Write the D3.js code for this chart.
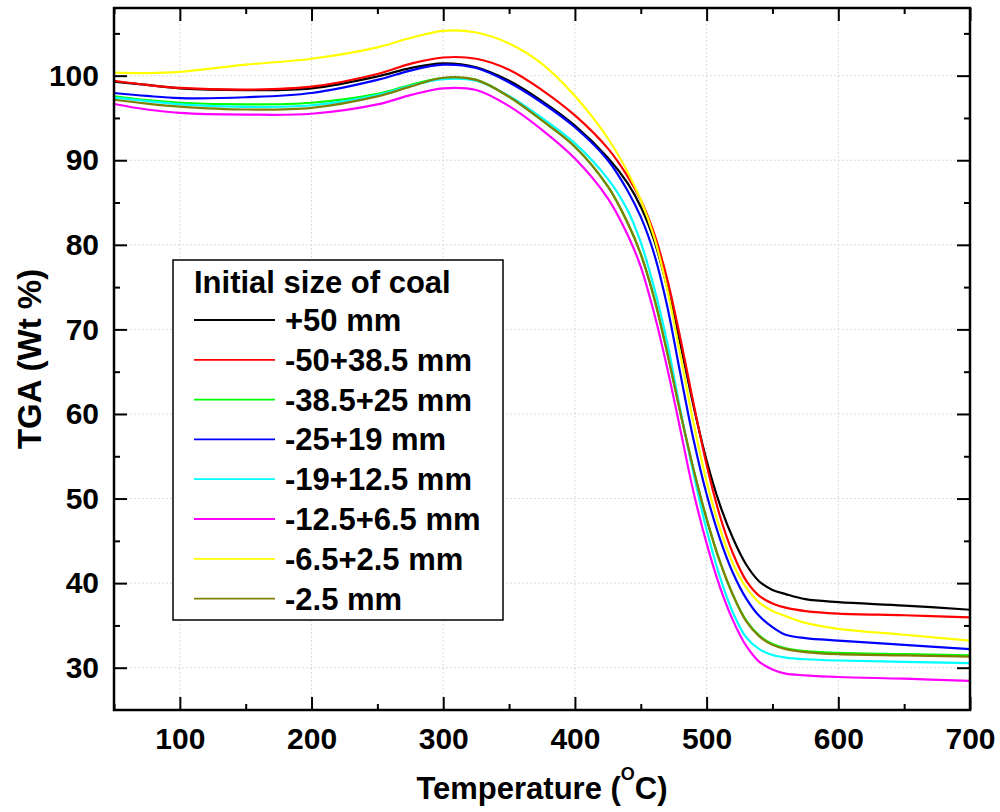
<!DOCTYPE html>
<html>
<head>
<meta charset="utf-8">
<script src="https://cdn.jsdelivr.net/npm/d3@7"></script>
<style>
  body { margin: 0; background: #fff; }
  svg { font-family: "Liberation Sans", Arial, sans-serif; font-weight: bold; }
  .tick text { font-size: 30px; font-weight: bold; fill: #000; }
  .tick line { stroke: #000; stroke-width: 2; }
  .grid line { stroke: #d0d0d0; stroke-width: 1; stroke-dasharray: 1.5,2.5; }
</style>
</head>
<body>
<svg id="chart" width="1000" height="812"></svg>
<script>
// temperatures (deg C) shared by all curves
const temps = [50, 75, 100, 150, 200, 250, 275, 300, 325, 350, 375, 400, 425, 440, 450, 460, 470, 480, 490, 500, 510, 520, 530, 540, 550, 560, 575, 600, 650, 700];

const seriesNames = ['+50 mm', '-50+38.5 mm', '-38.5+25 mm', '-25+19 mm', '-19+12.5 mm', '-12.5+6.5 mm', '-6.5+2.5 mm', '-2.5 mm'];
const seriesColors = ['#000000', '#ff0000', '#00ff00', '#0000ff', '#00ffff', '#ff00ff', '#ffff00', '#808000'];

const tga50 = [99.3, 98.9, 98.5, 98.3, 98.5, 99.9, 100.9, 101.45, 101.0, 99.4, 97.0, 94.1, 90.3, 87.3, 84.5, 80.6, 75.0, 68.3, 61.0, 54.5, 49.3, 45.3, 42.2, 40.2, 39.2, 38.7, 38.1, 37.75, 37.35, 36.85];
const tga50_385 = [99.4, 98.9, 98.55, 98.35, 98.7, 100.2, 101.4, 102.15, 102.0, 100.7, 98.3, 95.3, 91.4, 88.1, 85.3, 81.4, 76.0, 69.0, 61.3, 54.0, 48.0, 43.5, 40.3, 38.5, 37.6, 37.1, 36.7, 36.4, 36.2, 35.95];
const tga385_25 = [97.55, 97.1, 96.8, 96.6, 96.8, 97.85, 98.9, 99.7, 99.5, 97.5, 94.7, 91.6, 86.9, 82.6, 78.9, 73.8, 67.3, 60.2, 53.5, 47.6, 42.6, 38.6, 35.6, 33.8, 32.8, 32.3, 31.95, 31.75, 31.6, 31.45];
const tga25_19 = [97.95, 97.6, 97.35, 97.45, 97.95, 99.5, 100.6, 101.3, 100.9, 99.2, 96.8, 93.9, 90.0, 86.4, 83.3, 79.0, 72.8, 64.8, 57.0, 50.5, 45.3, 41.2, 38.2, 36.1, 34.8, 33.9, 33.5, 33.2, 32.7, 32.2];
const tga19_125 = [97.4, 97.0, 96.6, 96.3, 96.5, 97.7, 98.8, 99.6, 99.4, 97.6, 95.0, 92.0, 87.8, 84.1, 80.3, 75.0, 68.5, 60.5, 53.0, 46.3, 40.8, 36.5, 33.6, 32.2, 31.5, 31.2, 31.0, 30.85, 30.7, 30.55];
const tga125_65 = [96.65, 96.0, 95.6, 95.4, 95.5, 96.6, 97.7, 98.5, 98.3, 96.4, 93.6, 90.2, 85.5, 81.2, 77.4, 72.0, 65.5, 58.2, 50.8, 44.7, 39.6, 35.6, 32.6, 30.7, 29.8, 29.3, 29.1, 28.9, 28.7, 28.45];
const tga65_25 = [100.35, 100.3, 100.45, 101.3, 102.0, 103.35, 104.45, 105.3, 105.1, 103.8, 101.4, 97.6, 92.6, 88.6, 85.3, 81.0, 74.8, 67.0, 59.0, 52.0, 46.5, 42.3, 39.5, 37.7, 36.7, 36.1, 35.3, 34.6, 33.9, 33.2];
const tga25 = [97.15, 96.7, 96.35, 96.0, 96.2, 97.55, 98.7, 99.75, 99.5, 97.5, 94.7, 91.6, 86.9, 82.6, 78.9, 73.8, 67.3, 60.2, 53.5, 47.6, 42.6, 38.6, 35.5, 33.7, 32.7, 32.2, 31.85, 31.6, 31.45, 31.3];

const seriesValues = [tga50, tga50_385, tga385_25, tga25_19, tga19_125, tga125_65, tga65_25, tga25];

const xMajor = [100, 200, 300, 400, 500, 600, 700];
const xMinor = [50, 150, 250, 350, 450, 550, 650];
const yMajor = [30, 40, 50, 60, 70, 80, 90, 100];
const yMinor = [35, 45, 55, 65, 75, 85, 95, 105];

const margin = { left: 114, right: 30, top: 8, bottom: 102 };
const svg = d3.select('#chart');
const width = +svg.attr('width');
const height = +svg.attr('height');
const innerWidth = width - margin.left - margin.right;
const innerHeight = height - margin.top - margin.bottom;

const g = svg.append('g')
  .attr('transform', `translate(${margin.left},${margin.top})`);

const xScale = d3.scaleLinear().domain([50, 700]).range([0, innerWidth]);
const yScale = d3.scaleLinear().domain([25, 108]).range([innerHeight, 0]);

// dotted grid
const grid = g.append('g').attr('class', 'grid');
grid.selectAll('.gx').data(xMajor.filter(d => d < 700))
  .enter().append('line')
  .attr('x1', d => xScale(d)).attr('x2', d => xScale(d))
  .attr('y1', 0).attr('y2', innerHeight);
grid.selectAll('.gy').data(yMajor)
  .enter().append('line')
  .attr('y1', d => yScale(d)).attr('y2', d => yScale(d))
  .attr('x1', 0).attr('x2', innerWidth);

// curves
const line = d3.line()
  .x((d, i) => xScale(temps[i]))
  .y(d => yScale(d))
  .curve(d3.curveCatmullRom.alpha(0.5));

g.selectAll('path.curve').data(seriesValues)
  .enter().append('path')
  .attr('class', 'curve')
  .attr('d', d => line(d))
  .attr('fill', 'none')
  .attr('stroke', (d, i) => seriesColors[i])
  .attr('stroke-width', 2.2);

// axes: ticks inside on all four sides
function addAxis(axis, transform, noLabels) {
  const a = g.append('g').attr('transform', transform).call(axis);
  a.select('.domain').remove();
  if (noLabels) a.selectAll('text').remove();
  return a;
}

addAxis(d3.axisBottom(xScale).tickValues(xMajor).tickSize(-13).tickPadding(18).tickFormat(d3.format('d')), `translate(0,${innerHeight})`);
addAxis(d3.axisBottom(xScale).tickValues(xMinor).tickSize(-6), `translate(0,${innerHeight})`, true);
addAxis(d3.axisTop(xScale).tickValues(xMajor).tickSize(-13), 'translate(0,0)', true);
addAxis(d3.axisTop(xScale).tickValues(xMinor).tickSize(-6), 'translate(0,0)', true);

addAxis(d3.axisLeft(yScale).tickValues(yMajor).tickSize(-13).tickPadding(15).tickFormat(d3.format('d')), 'translate(0,0)');
addAxis(d3.axisLeft(yScale).tickValues(yMinor).tickSize(-6), 'translate(0,0)', true);
addAxis(d3.axisRight(yScale).tickValues(yMajor).tickSize(-13), `translate(${innerWidth},0)`, true);
addAxis(d3.axisRight(yScale).tickValues(yMinor).tickSize(-6), `translate(${innerWidth},0)`, true);

// frame
g.append('rect')
  .attr('x', 0).attr('y', 0)
  .attr('width', innerWidth).attr('height', innerHeight)
  .attr('fill', 'none').attr('stroke', '#000').attr('stroke-width', 2.5);

// axis titles
const xTitle = svg.append('text')
  .attr('x', margin.left + innerWidth / 2)
  .attr('y', 799)
  .attr('text-anchor', 'middle')
  .style('font-size', '31px');
xTitle.append('tspan').text('Temperature (');
xTitle.append('tspan').attr('dy', -19).style('font-size', '18px').text('O');
xTitle.append('tspan').attr('dy', 19).text('C)');

svg.append('text')
  .attr('transform', `translate(41,${margin.top + innerHeight / 2}) rotate(-90)`)
  .attr('text-anchor', 'middle')
  .style('font-size', '33px')
  .text('TGA (Wt %)');

// legend
const legend = svg.append('g').attr('transform', 'translate(173,260)');
legend.append('rect')
  .attr('width', 330).attr('height', 360)
  .attr('fill', '#fff').attr('stroke', '#000').attr('stroke-width', 1.5);
legend.append('text')
  .attr('x', 21).attr('y', 33)
  .style('font-size', '31px')
  .text('Initial size of coal');
const items = legend.selectAll('.item').data(seriesNames)
  .enter().append('g')
  .attr('transform', (d, i) => `translate(0,${60 + i * 39.8})`);
items.append('line')
  .attr('x1', 21).attr('x2', 102)
  .attr('stroke', (d, i) => seriesColors[i])
  .attr('stroke-width', 1.8);
items.append('text')
  .attr('x', 112).attr('y', 11)
  .style('font-size', '31px')
  .text(d => d);
</script>
</body>
</html>
